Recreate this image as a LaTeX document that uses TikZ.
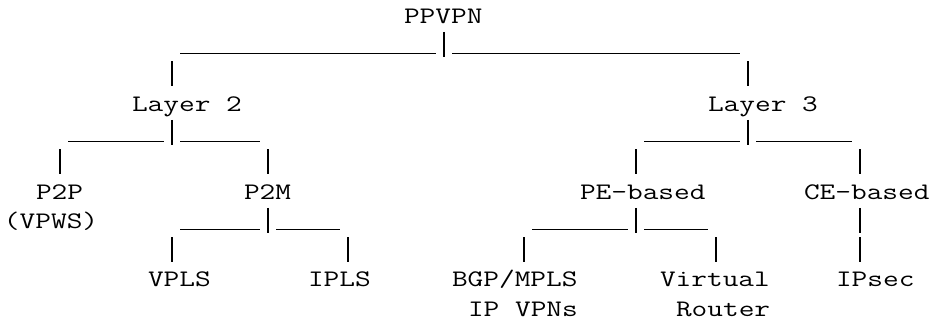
\documentclass[tikz,border=0pt]{standalone}
\usepackage{graphicx}
\usetikzlibrary{positioning}
\newcommand{\asciifont}{\fontsize{23.7pt}{28pt}\selectfont\ttfamily}
\newcommand{\wide}[1]{\scalebox{1.286}[1]{#1}}
\tikzset{%
	ascii/.style    = {anchor=base west, inner sep=0pt, outer sep=0pt, font=\asciifont},
	barline/.style  = {line width=1.2pt},
	pipeline/.style = {line width=1.2pt},
}
% one column = 16pt, one row = 29.3pt, rows counted downwards
\newcommand{\vpipe}[2]{\draw[pipeline] (#1+0.5,#2-0.703) -- (#1+0.5,#2+0.15);}
\newcommand{\hunder}[3]{\draw[barline] (#1,#3+0.034) -- (#2+1,#3+0.034);}
\begin{document}
\begin{tikzpicture}[x=16pt, y=-29.3pt]
	
	\useasboundingbox (-0.25,-0.795) rectangle (58,10.194);
	
	\node[ascii] (ppvpn) at (25,0) {\wide{PPVPN}};
	
	\hunder{11}{26}{1} \vpipe{27}{1} \hunder{28}{45}{1}
	\vpipe{10}{2} \vpipe{46}{2}
	
	\node[ascii] (layer2) at (8,3) {\wide{Layer 2}};
	\node[ascii] (layer3) at (44,3) {\wide{Layer 3}};
	
	% Layer 2 branch
	\hunder{4}{9}{4} \vpipe{10}{4} \hunder{11}{15}{4}
	\vpipe{3}{5} \vpipe{16}{5}
	
	% Layer 3 branch
	\hunder{40}{45}{4} \vpipe{46}{4} \hunder{47}{52}{4}
	\vpipe{39}{5} \vpipe{53}{5}
	
	\node[ascii] (p2p) at (2,6) {\wide{P2P}};
	\node[ascii] (vpws) at (0,7) {\wide{(VPWS)}};
	\node[ascii] (p2m) at (15,6) {\wide{P2M}};
	\node[ascii] (pebased) at (36,6) {\wide{PE-based}};
	\node[ascii] (cebased) at (50,6) {\wide{CE-based}};
	
	% P2M branch
	\hunder{11}{15}{7} \vpipe{16}{7} \hunder{17}{20}{7}
	\vpipe{10}{8} \vpipe{21}{8}
	
	% PE-based branch
	\hunder{33}{38}{7} \vpipe{39}{7} \hunder{40}{43}{7}
	\vpipe{32}{8} \vpipe{44}{8}
	
	% CE-based
	\vpipe{53}{7} \vpipe{53}{8}
	
	\node[ascii] (vpls) at (9,9) {\wide{VPLS}};
	\node[ascii] (ipls) at (19,9) {\wide{IPLS}};
	\node[ascii] (bgpmpls) at (28,9) {\wide{BGP/MPLS}};
	\node[ascii] (ipvpns) at (29,10) {\wide{IP VPNs}};
	\node[ascii] (virtual) at (41,9) {\wide{Virtual}};
	\node[ascii] (router) at (42,10) {\wide{Router}};
	\node[ascii] (ipsec) at (52,9) {\wide{IPsec}};
	
\end{tikzpicture}
\end{document}
